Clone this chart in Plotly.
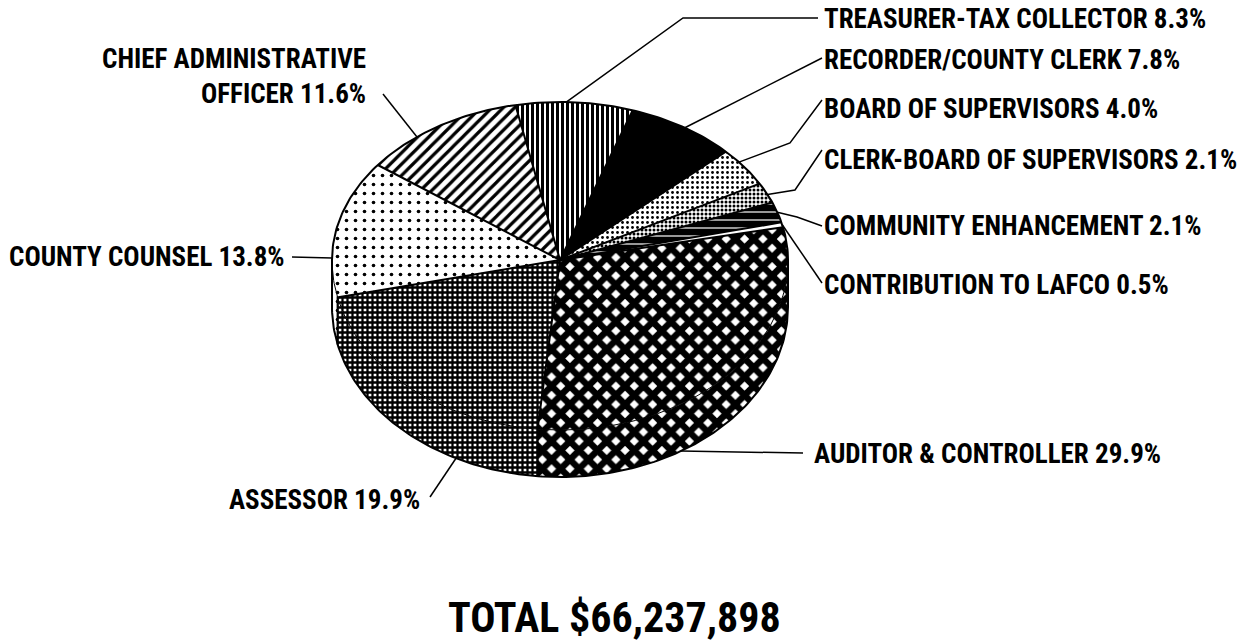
import numpy as np
import plotly.graph_objects as go

# Departments, clockwise from the 3 o'clock side of the pie
departments = [
    "AUDITOR & CONTROLLER",
    "ASSESSOR",
    "COUNTY COUNSEL",
    "CHIEF ADMINISTRATIVE<br>OFFICER",
    "TREASURER-TAX COLLECTOR",
    "RECORDER/COUNTY CLERK",
    "BOARD OF SUPERVISORS",
    "CLERK-BOARD OF SUPERVISORS",
    "COMMUNITY ENHANCEMENT",
    "CONTRIBUTION TO LAFCO",
]
percent = [29.9, 19.9, 13.8, 11.6, 8.3, 7.8, 4.0, 2.1, 2.1, 0.5]
total_budget = 66237898

# ---- drawing style -------------------------------------------------------
W, H = 1254, 642
CX, CY = 560, 260          # pie centre (top face)
RX = 228                   # horizontal radius
RY_BACK, RY_FRONT = 158, 170   # vertical radius of far / near half
DEPTH = 47                 # thickness of the tilted pie
START = -12                # angle of first slice edge (deg, clockwise)
FONT = "'Roboto Condensed', 'Liberation Sans Narrow', 'Liberation Sans', Arial, sans-serif"
LABEL_SIZE = 27
TOTAL_SIZE = 42

fills = [
    dict(shape="x", fgcolor="black", bgcolor="white", size=13, solidity=0.75),
    dict(shape="+", fgcolor="black", bgcolor="white", size=5, solidity=0.7),
    dict(shape=".", fgcolor="black", bgcolor="white", size=9, solidity=0.13),
    dict(shape="/", fgcolor="black", bgcolor="white", size=8, solidity=0.4),
    dict(shape="|", fgcolor="black", bgcolor="white", size=5, solidity=0.6),
    None,  # solid black
    dict(shape=".", fgcolor="black", bgcolor="white", size=5, solidity=0.25),
    dict(shape=".", fgcolor="black", bgcolor="white", size=4, solidity=0.45),
    dict(shape="-", fgcolor="white", bgcolor="black", size=8, solidity=0.15),
    None,  # plain white
]
for f in fills:
    if f is not None:
        f["fgopacity"] = 1
solid = ["white", "white", "white", "white", "white", "black",
         "white", "white", "black", "white"]

# where each leader line leaves its slice (fraction of the slice sweep)
# and the bends it takes on the way to its label
leader_frac = [0.65, 0.30, 0.27, 0.34, 0.43, 0.52, 0.35, 0.59, 0.5, 0.5]
leader_path = [
    [(803, 453)],
    [(430, 497)],
    [(292, 257)],
    [(383, 94)],
    [(683, 18), (818, 18)],
    [(822, 58)],
    [(790, 143), (822, 100)],
    [(795, 190), (822, 150)],
    [(797, 217), (822, 226)],
    [(822, 283)],
]
# label anchor (x, y, xanchor)
label_pos = [
    (812, 454, "left"),
    (422, 500, "right"),
    (287, 257, "right"),
    (368, 76, "right"),
    (822, 19, "left"),
    (822, 60, "left"),
    (822, 109, "left"),
    (822, 160, "left"),
    (822, 226, "left"),
    (822, 285, "left"),
]


def rim(theta, drop=0.0):
    """Point on the pie rim at angle theta (deg, clockwise, screen y down)."""
    t = np.radians(theta)
    s = np.sin(t)
    ry = np.where(s > 0, RY_FRONT, RY_BACK)
    return CX + RX * np.cos(t), CY + ry * s + drop


def arc(a0, a1, drop=0.0):
    n = max(int(abs(a1 - a0)) + 2, 3)
    th = np.linspace(a0, a1, n)
    return rim(th, drop)


def slice_style(i):
    kw = dict(fillcolor=solid[i])
    if fills[i] is not None:
        kw["fillpattern"] = fills[i]
    return kw


def outline(xs, ys, width):
    fig.add_trace(go.Scatter(x=xs, y=ys, mode="lines",
                             line=dict(color="black", width=width),
                             hoverinfo="skip", showlegend=False))


values = np.array(percent, dtype=float)
edges = START + 360.0 * np.concatenate([[0], np.cumsum(values)]) / values.sum()

fig = go.Figure()

# side walls of the slices on the near half
for i in range(len(values)):
    lo, hi = max(edges[i], 0.0), min(edges[i + 1], 180.0)
    if hi <= lo:
        continue
    xt, yt = arc(lo, hi)
    xb, yb = arc(hi, lo, DEPTH)
    xs = np.concatenate([xt, xb, xt[:1]])
    ys = np.concatenate([yt, yb, yt[:1]])
    fig.add_trace(go.Scatter(x=xs, y=ys, mode="lines", fill="toself",
                             line=dict(color="black", width=0),
                             hoverinfo="skip", showlegend=False,
                             **slice_style(i)))

# top faces of the slices
for i in range(len(values)):
    xa, ya = arc(edges[i], edges[i + 1])
    xs = np.concatenate([[CX], xa, [CX]])
    ys = np.concatenate([[CY], ya, [CY]])
    fig.add_trace(go.Scatter(x=xs, y=ys, mode="lines", fill="toself",
                             line=dict(color="black", width=0),
                             hoverinfo="skip", showlegend=False,
                             **slice_style(i)))

# silhouette of the pie
xb, yb = arc(180, 360)
xf, yf = arc(0, 180, DEPTH)
outline(np.concatenate([xb, xf, xb[:1]]), np.concatenate([yb, yf, yb[:1]]), 2)
# faint near edge of the top face
xt, yt = arc(0, 180)
outline(xt, yt, 1)
# slice boundaries
for a in edges[:-1]:
    x1, y1 = rim(a)
    px, py = [CX, float(x1)], [CY, float(y1)]
    if np.sin(np.radians(a)) > 0:
        px.append(float(x1))
        py.append(float(y1) + DEPTH)
    outline(px, py, 2)

# leader lines and labels
for i, name in enumerate(departments):
    a = edges[i] + leader_frac[i] * (edges[i + 1] - edges[i])
    drop = DEPTH if np.sin(np.radians(a)) > 0 else 0.0
    x0, y0 = rim(a, drop)
    px = [float(x0)] + [p[0] for p in leader_path[i]]
    py = [float(y0)] + [p[1] for p in leader_path[i]]
    outline(px, py, 1.5)
    lx, ly, anc = label_pos[i]
    fig.add_annotation(x=lx, y=ly, xref="x", yref="y", showarrow=False,
                       text=f"{name} {percent[i]:.1f}%", xanchor=anc,
                       yanchor="middle", align=anc,
                       font=dict(family=FONT, size=LABEL_SIZE, color="black",
                                 weight="bold"))

fig.add_annotation(x=614, y=617, xref="x", yref="y", showarrow=False,
                   text=f"TOTAL ${total_budget:,}", xanchor="center",
                   yanchor="middle",
                   font=dict(family=FONT, size=TOTAL_SIZE, color="black",
                             weight="bold"))

fig.update_xaxes(range=[0, W], visible=False, fixedrange=True)
fig.update_yaxes(range=[H, 0], visible=False, fixedrange=True)
fig.update_layout(width=W, height=H, margin=dict(l=0, r=0, t=0, b=0),
                  paper_bgcolor="white", plot_bgcolor="white",
                  showlegend=False)

fig.write_html("out.html")
